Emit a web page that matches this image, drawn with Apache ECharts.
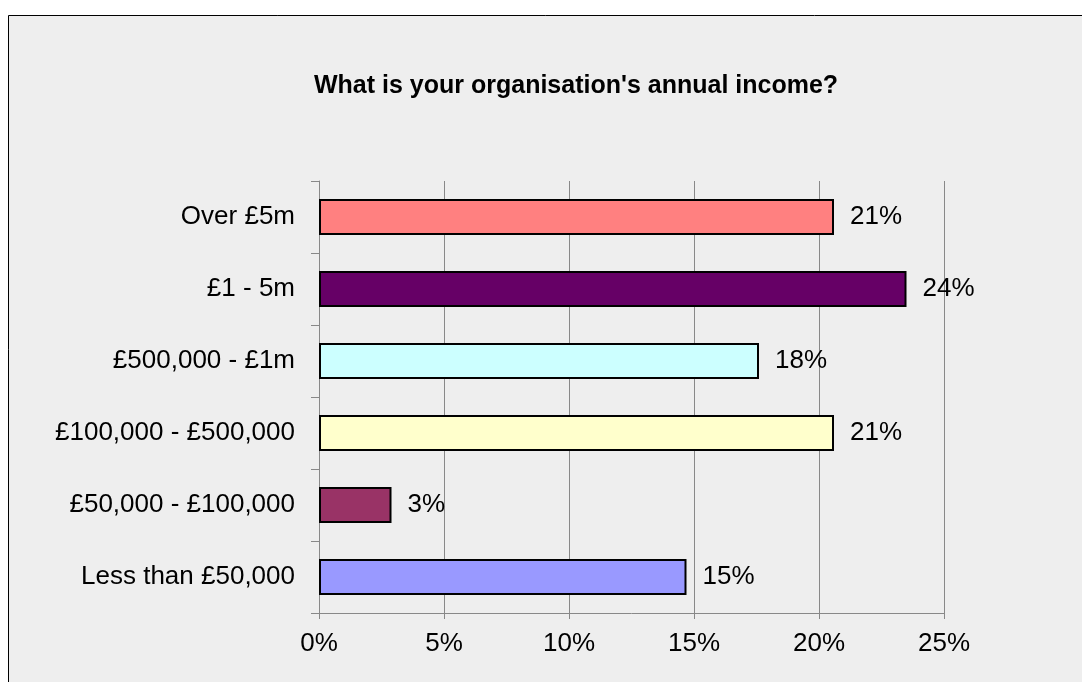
<!DOCTYPE html>
<html>
<head>
<meta charset="utf-8">
<script src="https://cdn.jsdelivr.net/npm/echarts@6/dist/echarts.min.js"></script>
<style>
  html, body { margin: 0; padding: 0; background: #ffffff; }
  #chart { width: 1082px; height: 682px; }
</style>
</head>
<body>
<div id="chart"></div>
<script>
// Income bands, listed top to bottom
const categories = [
  'Over £5m',
  '£1 - 5m',
  '£500,000 - £1m',
  '£100,000 - £500,000',
  '£50,000 - £100,000',
  'Less than £50,000'
];
// Share of respondents (%)
const shares = [20.6, 23.5, 17.6, 20.6, 2.9, 14.7];
const barColors = ['#ff8080', '#660066', '#ccffff', '#ffffcc', '#993366', '#9999ff'];
const xTicks = [0, 5, 10, 15, 20, 25];

const font = '"Liberation Sans", Arial, sans-serif';
const chart = echarts.init(document.getElementById('chart'), null, { renderer: 'canvas' });

chart.setOption({
  animation: false,
  backgroundColor: '#ffffff',
  graphic: [{
    type: 'rect',
    z: -10,
    shape: { x: 8.5, y: 15.5, width: 1200, height: 800 },
    style: { fill: '#eeeeee', stroke: '#000000', lineWidth: 1 }
  }],
  title: {
    text: "What is your organisation's annual income?",
    left: 309,
    top: 69,
    textStyle: { fontFamily: font, fontSize: 25, fontWeight: 'bold', color: '#000000' }
  },
  grid: { left: 319, right: 138, top: 181, bottom: 69, containLabel: false },
  xAxis: {
    type: 'value',
    min: xTicks[0],
    max: xTicks[xTicks.length - 1],
    interval: 5,
    axisLine: { show: true, lineStyle: { color: '#888888', width: 1 } },
    axisTick: { show: true, length: 6, lineStyle: { color: '#888888' } },
    splitLine: { show: true, lineStyle: { color: '#888888', width: 1 } },
    axisLabel: {
      formatter: v => v + '%',
      margin: 18,
      color: '#000000',
      fontFamily: font,
      fontSize: 26
    }
  },
  yAxis: {
    type: 'category',
    inverse: true,
    data: categories,
    axisLine: { show: true, lineStyle: { color: '#888888', width: 1 } },
    axisTick: { show: true, length: 8, lineStyle: { color: '#888888' } },
    axisLabel: {
      margin: 24,
      color: '#000000',
      fontFamily: font,
      fontSize: 26
    }
  },
  series: [{
    type: 'bar',
    barWidth: 36,
    data: shares.map((v, i) => ({
      value: v,
      itemStyle: { color: barColors[i], borderColor: '#000000', borderWidth: 2 }
    })),
    label: {
      show: true,
      position: 'right',
      distance: 16,
      formatter: p => Math.round(p.value) + '%',
      color: '#000000',
      fontFamily: font,
      fontSize: 26
    }
  }]
});
</script>
</body>
</html>
